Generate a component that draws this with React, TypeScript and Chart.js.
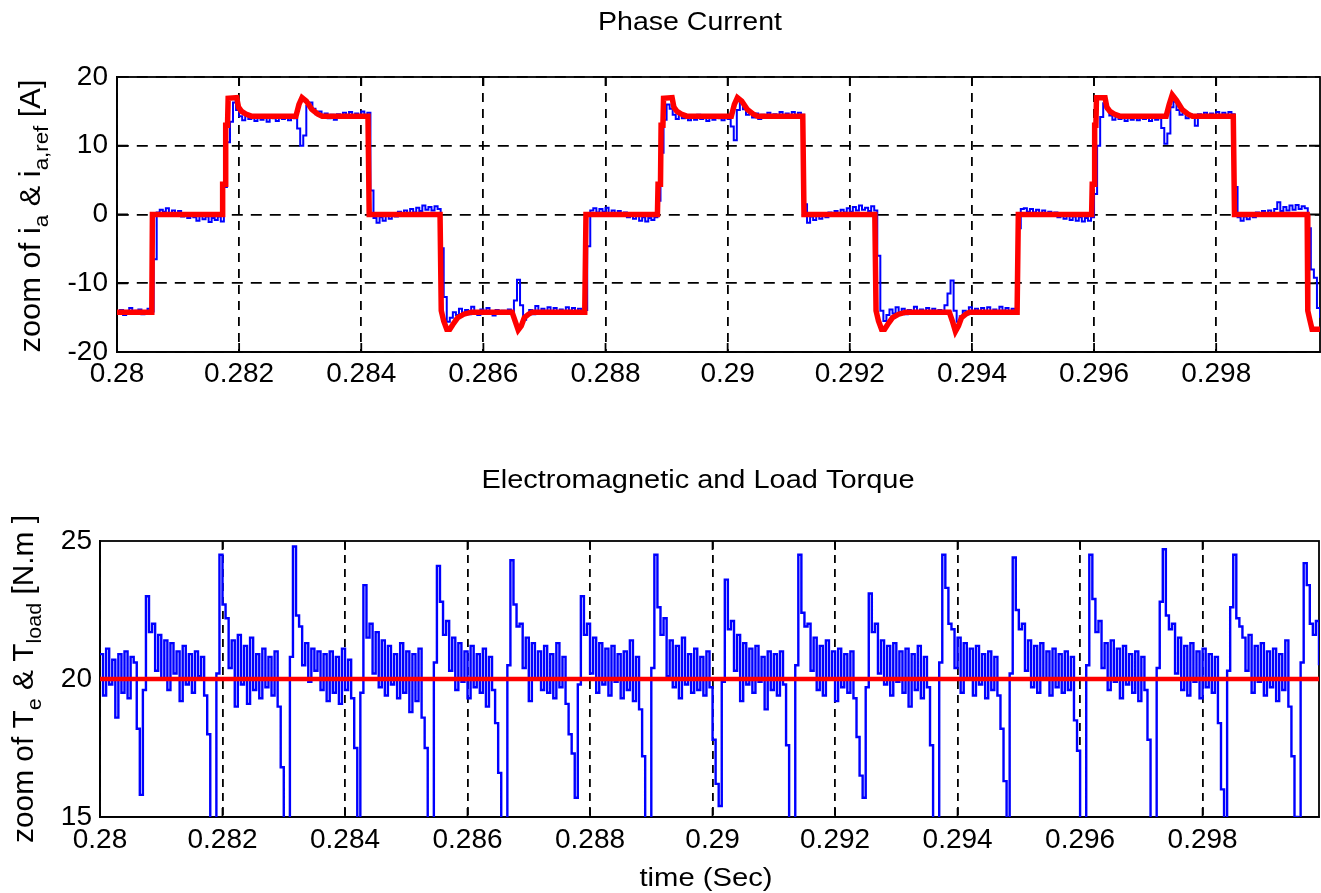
import React, { useEffect, useRef } from "react";
import { Chart, registerables } from "chart.js";

Chart.register(...registerables);

// ---------- data ----------
const T0 = 0.28; // first sample time (s)
const DT = 0.00005; // sampling step of the measured signals (s)

const X_TICKS = [0.28, 0.282, 0.284, 0.286, 0.288, 0.29, 0.292, 0.294, 0.296, 0.298];
const CURRENT_TICKS = [-20, -10, 0, 10, 20];
const TORQUE_TICKS = [15, 20, 25];

// measured phase current i_a (A), one value per DT
const CURRENT_MEAS = [
  -14.3, -13.9, -14.6, -14.1, -13.6, -14.4, -14.0, -13.8, -14.5, -14.2,
  -13.7, -14.1, -6.5, 0.3, 0.7, 0.4, 0.9, 0.2, 0.6, 0.1,
  0.5, -0.3, 0.2, -0.5, 0.1, -0.4, -0.9, -0.2, -0.7, -0.3,
  -1.1, -0.5, -0.8, -0.3, -1.0, 4.0, 10.5, 13.5, 16.3, 15.2,
  14.3, 13.7, 14.5, 13.9, 14.2, 13.6, 14.4, 13.8, 14.1, 13.5,
  14.3, 14.0, 13.6, 14.4, 13.9, 14.2, 13.7, 14.3, 14.0, 12.5,
  10.0, 11.5, 15.8, 16.3, 15.4, 14.6, 15.0, 14.2, 14.7, 14.0,
  14.5, 13.8, 14.6, 14.1, 14.8, 14.3, 14.9, 14.2, 14.7, 14.4,
  15.0, 14.5, 14.8, 3.5, -0.5, -1.2, -0.4, -0.9, 0.1, -0.6,
  0.2, -0.3, 0.4, -0.1, 0.6, 0.2, 0.8, 0.3, 1.0, 0.5,
  1.3, 0.7, 1.1, 0.6, 1.2, 0.8, -4.9, -12.0, -15.6, -15.0,
  -14.2, -14.6, -13.7, -14.3, -13.9, -14.5, -13.4, -14.1, -14.6, -13.8,
  -14.3, -13.6, -14.2, -14.7, -13.9, -14.4, -14.0, -14.3, -13.8, -14.2,
  -12.5, -9.5, -13.2, -15.3, -14.6, -13.9, -14.5, -13.3, -14.2, -13.7,
  -14.4, -13.5, -14.1, -13.6, -14.3, -13.8, -14.2, -13.5, -14.0, -13.6,
  -14.3, -13.7, -14.1, -13.9, -4.6, 0.6, 0.9, 0.3, 0.8, 0.4,
  1.0, 0.2, 0.6, 0.1, 0.5, -0.2, 0.3, -0.4, 0.1, -0.6,
  -0.2, -0.9, -0.4, -1.0, -0.5, -0.8, -0.4, 2.0, 9.0, 13.8,
  16.0, 15.4, 14.5, 13.9, 14.6, 14.0, 14.4, 13.7, 14.2, 13.8,
  14.5, 13.9, 14.3, 13.6, 14.1, 13.8, 14.4, 14.0, 13.7, 14.3,
  13.9, 12.8, 10.8, 15.2, 16.4, 15.3, 14.5, 14.9, 14.1, 14.7,
  13.9, 14.5, 14.2, 14.8, 14.1, 14.6, 14.3, 14.9, 14.2, 14.7,
  14.4, 14.9, 14.3, 14.8, 14.5, 1.5, -1.2, -0.3, -0.8, -0.2,
  -0.6, 0.1, -0.4, 0.3, -0.2, 0.5, 0.1, 0.7, 0.3, 0.9,
  0.4, 1.1, 0.6, 1.3, 0.7, 1.0, 0.5, 1.2, 0.6, -6.0,
  -14.0, -15.5, -14.6, -13.8, -14.4, -13.5, -14.2, -13.7, -14.5, -13.9,
  -14.3, -13.4, -14.1, -13.8, -14.4, -13.6, -14.2, -13.7, -14.3, -13.9,
  -14.1, -13.2, -11.5, -9.6, -14.0, -15.6, -14.8, -14.0, -14.5, -13.5,
  -14.2, -13.7, -14.4, -13.6, -14.1, -13.5, -14.3, -13.8, -14.2, -13.4,
  -14.0, -13.6, -14.3, -13.7, -14.1, -2.0, 0.8, 0.9, 0.4, 0.8,
  0.3, 0.7, 0.2, 0.6, 0.1, 0.4, -0.2, 0.3, -0.4, 0.0,
  -0.6, -0.1, -0.8, -0.3, -0.9, -0.4, -1.0, -0.5, -0.9, -0.4,
  3.0, 10.0, 14.2, 16.2, 15.3, 14.4, 13.8, 14.5, 13.9, 14.3,
  13.6, 14.2, 13.8, 14.4, 13.7, 14.1, 13.9, 14.3, 13.6, 14.2,
  13.8, 14.0, 12.6, 10.3, 11.8, 15.6, 16.4, 15.2, 14.5, 14.9,
  14.0, 14.6, 14.4, 12.9, 14.6, 14.2, 14.8, 14.3, 14.7, 14.4,
  14.9, 14.3, 14.8, 14.5, 14.9, 14.6, 4.0, -0.4, -0.9, -0.3,
  -0.7, 0.1, -0.4, 0.3, -0.1, 0.5, 0.1, 0.6, 0.2, 0.8,
  1.8, 0.5, 1.1, 0.6, 1.3, 0.7, 1.4, 0.8, 1.2, 0.9,
  -2.0, -8.0, -9.2, -13.6, -15.0, -14.6, -14.2, -14.8, -14.3, -14.5,
];

// reference current i_a,ref (A): breakpoint times and values
const CURRENT_REF_T = [
  0.28, 0.28057, 0.28058, 0.28172, 0.28173, 0.28177, 0.28178, 0.28181, 0.28182, 0.28196, 0.28199, 0.28204, 0.28211, 0.2822,
  0.28293, 0.28298, 0.28303, 0.2831, 0.28319, 0.28329, 0.28336,
  0.28411, 0.28413, 0.28529,
  0.28531, 0.28535, 0.2854, 0.28545, 0.2855, 0.28558, 0.28568, 0.2858,
  0.28647, 0.28652, 0.28657, 0.28662, 0.28667, 0.28674, 0.2868,
  0.28766, 0.28768, 0.28885,
  0.28886, 0.2889, 0.28891, 0.28894, 0.28895, 0.28909, 0.28912, 0.28917, 0.28924, 0.28933,
  0.29006, 0.29011, 0.29016, 0.29023, 0.29032, 0.29042, 0.29049,
  0.29123, 0.29125, 0.29241,
  0.29243, 0.29247, 0.29252, 0.29257, 0.29262, 0.2927, 0.2928, 0.29292,
  0.29363, 0.29368, 0.29373, 0.29378, 0.29383, 0.2939, 0.29396,
  0.29474, 0.29476, 0.29596,
  0.29597, 0.296, 0.29601, 0.29603, 0.29604, 0.29618, 0.29621, 0.29626, 0.29633, 0.29642,
  0.29718, 0.29723, 0.29728, 0.29735, 0.29744, 0.29754, 0.29761,
  0.29828, 0.2983, 0.29949,
  0.2995, 0.29953, 0.29957, 0.2997,
];
const CURRENT_REF_V = [
  -14.2, -14.2, 0, 0, 4.4, 4.4, 13, 13, 16.9, 17, 15.6, 15, 14.6, 14.3,
  14.3, 16, 17, 16.5, 15.3, 14.6, 14.3,
  14.3, 0, 0,
  -14, -15.5, -16.7, -16.7, -16, -15, -14.5, -14.2,
  -14.2, -15.5, -16.8, -16.2, -15, -14.5, -14.2,
  -14.2, 0, 0,
  4.4, 4.4, 13, 13, 16.9, 17, 15.6, 15, 14.6, 14.3,
  14.3, 16, 17, 16.5, 15.3, 14.6, 14.3,
  14.3, 0, 0,
  -14, -15.5, -16.7, -16.7, -16, -15, -14.5, -14.2,
  -14.2, -15.5, -17, -16.2, -15, -14.5, -14.2,
  -14.2, 0, 0,
  4.4, 4.4, 13, 13, 17, 17, 15.6, 15, 14.6, 14.3,
  14.3, 16, 17.4, 16.6, 15.3, 14.6, 14.3,
  14.3, 0, 0,
  -14, -15.2, -16.7, -16.7,
];

// electromagnetic torque T_e (N.m), one value per DT
const TORQUE_EM = [
  20.9, 19.4, 21.1, 19.8, 20.7, 18.6, 20.9, 19.5, 21.0, 19.3,
  20.8, 20.6, 18.2, 15.8, 19.6, 23.0, 21.7, 22.0, 20.3, 21.6,
  20.0, 21.4, 19.6, 21.3, 20.2, 21.0, 19.2, 21.2, 19.8, 20.9,
  19.5, 21.0, 20.1, 20.8, 19.4, 18.0, 14.2, 13.5, 20.2, 24.5,
  22.7, 22.2, 20.4, 21.4, 19.0, 21.6, 19.8, 21.2, 19.1, 21.5,
  19.6, 20.9, 19.3, 21.1, 19.7, 20.8, 19.4, 21.0, 19.0, 16.8,
  13.5, 14.0, 20.8, 24.8, 22.3, 21.9, 20.5, 21.3, 19.9, 21.1,
  20.3, 21.0, 19.6, 20.9, 19.2, 21.0, 19.5, 20.8, 19.1, 21.1,
  19.6, 20.7, 19.3, 17.5, 13.5, 19.5, 23.4, 21.5, 22.0, 20.2,
  21.7, 19.7, 21.4, 19.4, 21.2, 19.8, 20.9, 19.3, 21.3, 19.5,
  21.0, 18.8, 20.9, 19.2, 21.1, 18.6, 17.5, 14.0, 13.5, 20.6,
  24.1, 22.8, 21.6, 22.1, 20.3, 21.5, 19.6, 21.3, 19.9, 21.0,
  19.3, 21.2, 19.7, 20.9, 19.5, 21.1, 19.0, 20.8, 19.6, 18.4,
  16.6, 13.5, 14.0, 20.5, 24.3, 22.7, 21.9, 22.0, 20.4, 21.5,
  19.2, 21.3, 20.0, 21.0, 19.6, 21.2, 19.5, 20.9, 19.3, 21.3,
  19.7, 20.8, 19.1, 18.0, 17.3, 15.7, 19.8, 23.0, 21.6, 22.0,
  20.2, 21.5, 19.5, 21.3, 19.8, 21.1, 19.4, 21.2, 19.9, 20.9,
  19.3, 21.0, 19.6, 21.4, 19.2, 20.8, 18.9, 17.2, 14.0, 13.5,
  20.4, 24.5, 22.6, 21.6, 22.2, 20.1, 21.4, 19.7, 21.2, 19.3,
  21.5, 19.8, 20.9, 19.5, 21.1, 19.6, 20.8, 19.4, 21.0, 19.7,
  17.8, 16.2, 15.4, 19.9, 23.6, 21.8, 22.1, 20.3, 21.6, 19.2,
  21.3, 19.8, 21.1, 19.5, 21.2, 19.9, 20.8, 18.9, 21.0, 19.6,
  20.9, 19.4, 21.0, 19.8, 17.6, 13.5, 13.8, 20.5, 24.5, 22.4,
  21.9, 22.0, 20.3, 21.5, 19.6, 21.2, 19.4, 21.4, 20.0, 21.0,
  19.2, 21.1, 19.7, 20.9, 19.5, 21.0, 19.3, 17.9, 16.5, 15.7,
  19.7, 23.1, 21.7, 22.0, 20.2, 21.4, 19.8, 21.2, 19.4, 21.3,
  19.9, 21.0, 19.5, 21.1, 19.0, 20.9, 19.6, 21.2, 19.3, 20.8,
  19.7, 17.6, 13.5, 13.8, 20.6, 24.5, 23.3, 22.0, 21.8, 20.4,
  21.5, 19.5, 21.3, 20.0, 21.1, 19.4, 21.2, 19.8, 20.9, 19.3,
  21.0, 19.6, 20.8, 19.4, 18.2, 16.3, 13.5, 20.2, 24.4, 22.5,
  21.8, 22.0, 20.3, 21.4, 19.7, 21.2, 19.5, 21.3, 20.0, 21.0,
  19.4, 21.1, 19.7, 20.9, 19.5, 21.0, 19.6, 20.8, 18.5, 17.4,
  13.5, 14.2, 20.5, 24.5, 22.9, 21.7, 22.1, 20.4, 21.3, 19.6,
  21.4, 19.9, 21.1, 19.3, 21.2, 19.8, 20.9, 19.5, 21.0, 19.2,
  20.8, 19.6, 17.8, 13.5, 14.0, 20.4, 22.8, 24.7, 22.3, 21.8,
  22.0, 20.2, 21.5, 19.6, 21.2, 19.4, 21.3, 19.9, 21.0, 19.3,
  21.1, 19.7, 20.9, 19.5, 20.8, 18.4, 16.0, 13.5, 20.3, 22.6,
  24.5, 22.2, 21.9, 21.5, 20.3, 21.6, 19.5, 21.2, 19.9, 21.3,
  19.4, 21.0, 19.7, 21.1, 19.2, 20.9, 19.6, 21.4, 19.0, 17.2,
  15.0, 13.5, 20.6, 24.2, 23.4, 22.0, 21.6, 22.1, 20.5, 21.4,
];

// load torque T_load (N.m)
const TORQUE_LOAD_T = [0.28, 0.2999];
const TORQUE_LOAD_V = [20, 20];

// ---------- helpers ----------
const FONT = '"Liberation Sans", Arial, Helvetica, sans-serif';

type Seg = { t: string; sub?: boolean };
type Label = { segs: Seg[]; x: number; y: number; size: number; width: number; rotate?: boolean };

function drawLabel(ctx: CanvasRenderingContext2D, lab: Label) {
  ctx.save();
  ctx.fillStyle = "#000";
  ctx.textAlign = "left";
  ctx.textBaseline = "alphabetic";
  const subSize = lab.size * 0.72;
  let natural = 0;
  const widths = lab.segs.map((s) => {
    ctx.font = `${s.sub ? subSize : lab.size}px ${FONT}`;
    const w = ctx.measureText(s.t).width;
    natural += w;
    return w;
  });
  const sx = lab.width / natural;
  ctx.translate(lab.x, lab.y);
  if (lab.rotate) ctx.rotate(-Math.PI / 2);
  ctx.scale(sx, 1);
  let cx = -natural / 2;
  lab.segs.forEach((s, i) => {
    ctx.font = `${s.sub ? subSize : lab.size}px ${FONT}`;
    ctx.fillText(s.t, cx, s.sub ? lab.size * 0.28 : 0);
    cx += widths[i];
  });
  ctx.restore();
}

function framePlugin(labels: Label[], xTickLen: number, yTickLen: number) {
  return {
    id: "frameAndLabels",
    beforeDatasetsDraw(chart: any) {
      const { ctx, chartArea: a, scales } = chart;
      ctx.save();
      ctx.strokeStyle = "#000";
      ctx.lineWidth = 1.8;
      ctx.setLineDash([]);
      ctx.strokeRect(a.left, a.top, a.right - a.left, a.bottom - a.top);
      ctx.beginPath();
      scales.x.ticks.forEach((tk: any) => {
        const px = scales.x.getPixelForValue(tk.value);
        if (px <= a.left + 1 || px >= a.right - 1) return;
        ctx.moveTo(px, a.bottom);
        ctx.lineTo(px, a.bottom - xTickLen);
        ctx.moveTo(px, a.top);
        ctx.lineTo(px, a.top + xTickLen);
      });
      scales.y.ticks.forEach((tk: any) => {
        const py = scales.y.getPixelForValue(tk.value);
        if (py <= a.top + 1 || py >= a.bottom - 1) return;
        ctx.moveTo(a.left, py);
        ctx.lineTo(a.left + yTickLen, py);
        ctx.moveTo(a.right, py);
        ctx.lineTo(a.right - yTickLen, py);
      });
      ctx.stroke();
      ctx.restore();
    },
    afterDraw(chart: any) {
      labels.forEach((l) => drawLabel(chart.ctx, l));
    },
  };
}

const fmtX = (v: number | string) => String(Number(Number(v).toFixed(3)));

function makeScales(o: {
  xMax: number;
  yTicks: number[];
  xHeight: number;
  yWidth: number;
  xPad: number;
  yPad: number;
  xDash: number[];
  yDash: number[];
  yGrid: boolean;
}) {
  const tickFont = { family: FONT, size: 28 };
  return {
    x: {
      type: "linear",
      min: T0,
      max: o.xMax,
      afterBuildTicks: (s: any) => {
        s.ticks = X_TICKS.map((v) => ({ value: v }));
      },
      afterFit: (s: any) => {
        s.height = o.xHeight;
      },
      ticks: { font: tickFont, color: "#000", padding: o.xPad, maxRotation: 0, autoSkip: false, callback: fmtX },
      grid: { display: true, color: "#000", lineWidth: 1.8, drawTicks: false },
      border: { display: true, color: "#000", width: 1.8, dash: o.xDash },
    },
    y: {
      type: "linear",
      min: o.yTicks[0],
      max: o.yTicks[o.yTicks.length - 1],
      afterBuildTicks: (s: any) => {
        s.ticks = o.yTicks.map((v) => ({ value: v }));
      },
      afterFit: (s: any) => {
        s.width = o.yWidth;
      },
      ticks: { font: tickFont, color: "#000", padding: o.yPad, autoSkip: false },
      grid: { display: o.yGrid, color: "#000", lineWidth: 1.8, drawTicks: false },
      border: { display: true, color: "#000", width: 1.8, dash: o.yDash },
    },
  };
}

const baseOptions = {
  animation: false,
  responsive: false,
  maintainAspectRatio: false,
  events: [],
  plugins: { legend: { display: false }, title: { display: false }, tooltip: { enabled: false } },
};

export default function App() {
  const topRef = useRef<HTMLCanvasElement>(null);
  const botRef = useRef<HTMLCanvasElement>(null);

  useEffect(() => {
    const measPts = CURRENT_MEAS.map((v, i) => ({ x: T0 + i * DT, y: v }));
    const refPts = CURRENT_REF_T.map((t, i) => ({ x: t, y: CURRENT_REF_V[i] }));
    const tePts = TORQUE_EM.map((v, i) => ({ x: T0 + i * DT, y: v }));
    const tlPts = TORQUE_LOAD_T.map((t, i) => ({ x: t, y: TORQUE_LOAD_V[i] }));

    const topLabels: Label[] = [
      { segs: [{ t: "Phase Current" }], x: 690, y: 30, size: 26, width: 184 },
      {
        segs: [
          { t: "zoom of i" },
          { t: "a", sub: true },
          { t: " & i" },
          { t: "a,ref", sub: true },
          { t: " [A]" },
        ],
        x: 40,
        y: 216,
        size: 29,
        width: 273,
        rotate: true,
      },
    ];
    const botLabels: Label[] = [
      { segs: [{ t: "Electromagnetic and Load Torque" }], x: 698, y: 42, size: 26, width: 433 },
      { segs: [{ t: "time (Sec)" }], x: 706, y: 440, size: 26, width: 133 },
      {
        segs: [
          { t: "zoom of T" },
          { t: "e", sub: true },
          { t: " & T" },
          { t: "load", sub: true },
          { t: " [N.m ]" },
        ],
        x: 33,
        y: 233,
        size: 29,
        width: 328,
        rotate: true,
      },
    ];

    const top = new Chart(topRef.current as HTMLCanvasElement, {
      type: "line",
      data: {
        datasets: [
          { label: "i_a,ref", data: refPts, borderColor: "#ff0000", borderWidth: 5.5, pointRadius: 0, fill: false, tension: 0 },
          { label: "i_a", data: measPts, borderColor: "#0000ff", borderWidth: 2, pointRadius: 0, fill: false, stepped: true },
        ],
      },
      options: {
        ...baseOptions,
        layout: { padding: { top: 77, right: 1, bottom: 0, left: 0 } },
        scales: makeScales({
          xMax: 0.2997,
          yTicks: CURRENT_TICKS,
          xHeight: 94,
          yWidth: 117,
          xPad: 5,
          yPad: 9,
          xDash: [9, 7],
          yDash: [11, 8],
          yGrid: true,
        }),
      } as any,
      plugins: [framePlugin(topLabels, 9, 11)],
    } as any);

    const bot = new Chart(botRef.current as HTMLCanvasElement, {
      type: "line",
      data: {
        datasets: [
          { label: "T_load", data: tlPts, borderColor: "#ff0000", borderWidth: 4.5, pointRadius: 0, fill: false },
          { label: "T_e", data: tePts, borderColor: "#0000ff", borderWidth: 2.4, pointRadius: 0, fill: false, stepped: true },
        ],
      },
      options: {
        ...baseOptions,
        layout: { padding: { top: 95, right: 2, bottom: 0, left: 0 } },
        scales: makeScales({
          xMax: 0.2999,
          yTicks: TORQUE_TICKS,
          xHeight: 76,
          yWidth: 100,
          xPad: 6,
          yPad: 8,
          xDash: [8, 6],
          yDash: [11, 8],
          yGrid: false,
        }),
      } as any,
      plugins: [framePlugin(botLabels, 9, 11)],
    } as any);

    return () => {
      top.destroy();
      bot.destroy();
    };
  }, []);

  return (
    <div style={{ position: "fixed", left: 0, top: 0, width: 1321, height: 893, background: "#fff", overflow: "hidden" }}>
      <canvas
        ref={topRef}
        width={1321}
        height={446}
        style={{ position: "absolute", left: 0, top: 0, width: 1321, height: 446 }}
      />
      <canvas
        ref={botRef}
        width={1321}
        height={447}
        style={{ position: "absolute", left: 0, top: 446, width: 1321, height: 447 }}
      />
    </div>
  );
}
